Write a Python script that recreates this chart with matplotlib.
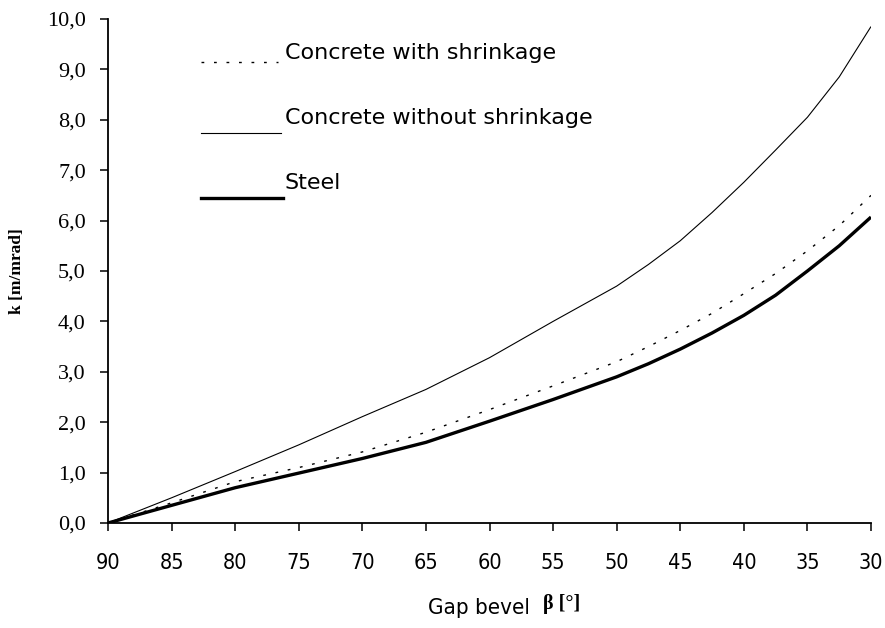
import matplotlib
matplotlib.use("Agg")
import matplotlib.pyplot as plt
from matplotlib.lines import Line2D

# ---- data ----
beta = [90, 85, 80, 75, 70, 65, 60, 55, 50, 47.5, 45, 42.5, 40, 37.5, 35, 32.5, 30]
concrete_with_shrinkage = [0.0, 0.40, 0.82, 1.10, 1.41, 1.80, 2.25, 2.72, 3.20, 3.50,
                           3.82, 4.16, 4.55, 4.95, 5.40, 5.90, 6.50]
concrete_without_shrinkage = [0.0, 0.50, 1.02, 1.55, 2.11, 2.65, 3.28, 4.00, 4.70, 5.13,
                              5.60, 6.16, 6.76, 7.40, 8.05, 8.85, 9.85]
steel = [0.0, 0.35, 0.70, 0.99, 1.28, 1.60, 2.02, 2.45, 2.90, 3.16,
         3.45, 3.77, 4.12, 4.52, 5.00, 5.50, 6.07]
series_names = ["Concrete with shrinkage", "Concrete without shrinkage", "Steel"]
xticks = [90, 85, 80, 75, 70, 65, 60, 55, 50, 45, 40, 35, 30]
yticks = [0, 1, 2, 3, 4, 5, 6, 7, 8, 9, 10]
ytick_labels = ["0,0", "1,0", "2,0", "3,0", "4,0", "5,0", "6,0", "7,0", "8,0", "9,0", "10,0"]

W, H = 885, 628
fig = plt.figure(figsize=(W / 100, H / 100), dpi=100)
L, R, B, T = 108, 871, 523, 19
ax = fig.add_axes([L / W, 1 - B / H, (R - L) / W, (B - T) / H])

styles = [
    dict(color="black", lw=1.0, linestyle=(0, (2, 7))),
    dict(color="black", lw=0.8, linestyle="-"),
    dict(color="black", lw=2.4, linestyle="-"),
]
for vals, st in zip([concrete_with_shrinkage, concrete_without_shrinkage, steel], styles):
    ax.plot(beta, vals, **st, solid_capstyle="butt", solid_joinstyle="round")

ax.set_xlim(90, 30)
ax.set_ylim(0, 10)
ax.set_xticks(xticks)
ax.set_xticklabels([str(v) for v in xticks])
ax.set_yticks(yticks)
ax.set_yticklabels(ytick_labels)

for s in ["top", "right"]:
    ax.spines[s].set_visible(False)
for s in ["left", "bottom"]:
    ax.spines[s].set_linewidth(1.3)
    ax.spines[s].set_color("black")

ax.tick_params(axis="x", direction="out", length=6, width=1.1, pad=15.5)
ax.tick_params(axis="y", direction="out", length=6, width=1.1, pad=10)
for lab in ax.get_xticklabels():
    lab.set_fontfamily("DejaVu Sans")
    lab.set_fontstretch("condensed")
    lab.set_fontsize(15.5)
for lab in ax.get_yticklabels():
    lab.set_fontfamily("Liberation Serif")
    lab.set_fontsize(16)

# y label
ax.set_ylabel("k [m/mrad]", fontfamily="Liberation Serif", fontweight="bold", fontsize=12.5)
ax.yaxis.set_label_coords((25 - L) / (R - L), 0.5)

def ax_x(px):
    return (px - L) / (R - L)

def ax_y(py):
    return (B - py) / (B - T)

# x label (two fonts)
ax.text(ax_x(530), ax_y(608), "Gap bevel", transform=ax.transAxes,
        ha="right", va="center", fontfamily="DejaVu Sans", fontstretch="condensed", fontsize=16)
ax.text(ax_x(543), ax_y(604), "β [°]", transform=ax.transAxes,
        ha="left", va="center", fontfamily="Liberation Serif", fontweight="bold", fontsize=14.5)

# manual legend
leg_lines = [(201, 278, 61.7), (201, 281, 133), (201, 283, 198)]
leg_text_y = [59, 124, 189]
for (x0, x1, y), st, name, ty in zip(leg_lines, styles, series_names, leg_text_y):
    ax.add_line(Line2D([ax_x(x0), ax_x(x1)], [ax_y(y), ax_y(y)], transform=ax.transAxes,
                       color=st["color"], lw=st["lw"], linestyle=st["linestyle"], clip_on=False))
    ax.text(ax_x(285), ax_y(ty), name, transform=ax.transAxes, ha="left", va="baseline",
            fontfamily="DejaVu Sans", fontsize=16)

fig.savefig("out.png", dpi=100)
